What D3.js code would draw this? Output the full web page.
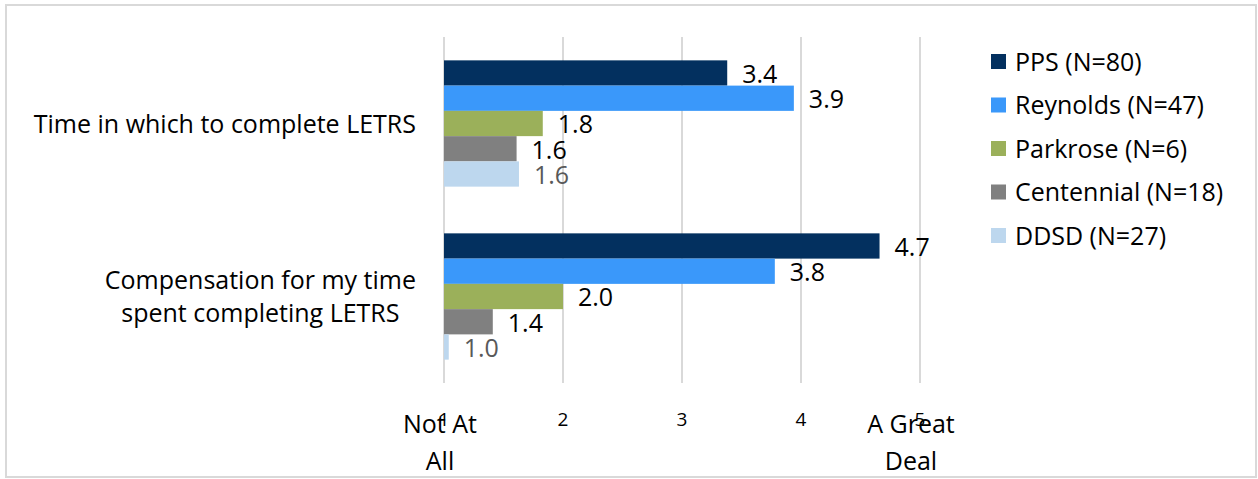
<!DOCTYPE html>
<html>
<head>
<meta charset="utf-8">
<script src="https://cdn.jsdelivr.net/npm/d3@7"></script>
<style>
  html, body { margin: 0; padding: 0; background: #fff; }
  svg { display: block; font-family: "Open Sans", "Noto Sans", sans-serif; }
</style>
</head>
<body>
<svg id="chart" width="1258" height="479"></svg>
<script>
// Survey items (one group of bars each)
const categories = [
  ["Time in which to complete LETRS"],
  ["Compensation for my time", "spent completing LETRS"]
];
// Districts shown in the legend, top to bottom
const seriesNames = ["PPS (N=80)", "Reynolds (N=47)", "Parkrose (N=6)", "Centennial (N=18)", "DDSD (N=27)"];
const seriesColors = ["#03305f", "#3a98fa", "#9bb05a", "#808080", "#bdd7ee"];
const labelColors = ["#000", "#000", "#000", "#000", "#595959"];
// Mean ratings per district, one entry per survey item
const PPS        = [3.38, 4.66];
const Reynolds   = [3.94, 3.78];
const Parkrose   = [1.83, 2.00];
const Centennial = [1.61, 1.41];
const DDSD       = [1.63, 1.04];
const seriesValues = [PPS, Reynolds, Parkrose, Centennial, DDSD];
// Rating scale ticks and end-point captions
const tickValues = [1, 2, 3, 4, 5];
const scaleLow = ["Not At", "All"];
const scaleHigh = ["A Great", "Deal"];

const FS = 25;
const svg = d3.select("#chart");

// Chart frame
svg.append("rect")
  .attr("x", 6).attr("y", 5).attr("width", 1250).attr("height", 472)
  .attr("fill", "#fff").attr("stroke", "#d9d9d9").attr("stroke-width", 2);

const plotTop = 37, plotBottom = 383;
const x = d3.scaleLinear().domain([1, 5]).range([444, 920]);
const catKeys = categories.map((c, i) => i);
const y0 = d3.scaleBand().domain(catKeys).range([plotTop, plotBottom]).paddingInner(0.27).paddingOuter(0.135);
const y1 = d3.scaleBand().domain(d3.range(seriesNames.length)).range([0, y0.bandwidth()]);

// Vertical gridlines
svg.append("g").selectAll("line").data(tickValues).join("line")
  .attr("x1", d => x(d)).attr("x2", d => x(d))
  .attr("y1", plotTop).attr("y2", plotBottom)
  .attr("stroke", "#d9d9d9").attr("stroke-width", 2);

// Bars and value labels
const groups = svg.append("g").selectAll("g").data(catKeys).join("g")
  .attr("transform", d => `translate(0,${y0(d)})`);

groups.each(function(ci) {
  const g = d3.select(this);
  const rows = seriesValues.map((vals, si) => ({ si, v: vals[ci] }));
  g.selectAll("rect").data(rows).join("rect")
    .attr("x", x(1))
    .attr("y", d => y1(d.si))
    .attr("width", d => x(d.v) - x(1))
    .attr("height", y1.bandwidth())
    .attr("fill", d => seriesColors[d.si]);
  g.selectAll("text").data(rows).join("text")
    .attr("x", d => x(d.v) + 15)
    .attr("y", d => y1(d.si) + y1.bandwidth() / 2 + 1)
    .attr("dy", "0.36em")
    .attr("font-size", FS)
    .attr("fill", d => labelColors[d.si])
    .text(d => d.v.toFixed(1));
});

// Category labels (multi-line labels are centred within their block)
const catG = svg.append("g");
categories.forEach((lines, ci) => {
  const t = catG.append("text")
    .attr("font-size", FS).attr("fill", "#000");
  const cy = y0(ci) + y0.bandwidth() / 2;
  const lh = 33;
  lines.forEach((ln, li) => {
    t.append("tspan").attr("x", 0)
      .attr("y", cy + (li - (lines.length - 1) / 2) * lh)
      .attr("dy", "0.36em").text(ln);
  });
  const widths = t.selectAll("tspan").nodes().map(n => n.getComputedTextLength());
  const maxW = d3.max(widths);
  const right = 416;
  t.selectAll("tspan").attr("x", (d, i, n) => right - maxW + (maxW - widths[i]) / 2);
});

// Rating scale tick numbers
svg.append("g").selectAll("text").data(tickValues).join("text")
  .attr("x", d => x(d)).attr("y", 419).attr("dy", "0.36em")
  .attr("text-anchor", "middle").attr("font-size", 19).attr("fill", "#000")
  .text(d => d);

// End-point captions
function caption(lines, cx) {
  const t = svg.append("text").attr("text-anchor", "middle")
    .attr("font-size", FS).attr("fill", "#000");
  lines.forEach((ln, i) => t.append("tspan").attr("x", cx).attr("y", 424 + i * 37).attr("dy", "0.36em").text(ln));
}
caption(scaleLow, 440);
caption(scaleHigh, 911);

// Legend
const legend = svg.append("g").attr("transform", "translate(991,54)");
const lg = legend.selectAll("g").data(seriesNames).join("g")
  .attr("transform", (d, i) => `translate(0,${i * 43.5})`);
lg.append("rect").attr("width", 15).attr("height", 15).attr("fill", (d, i) => seriesColors[i]);
lg.append("text").attr("x", 24).attr("y", 7.5).attr("dy", "0.36em")
  .attr("font-size", FS).attr("fill", "#000").text(d => d);
</script>
</body>
</html>
